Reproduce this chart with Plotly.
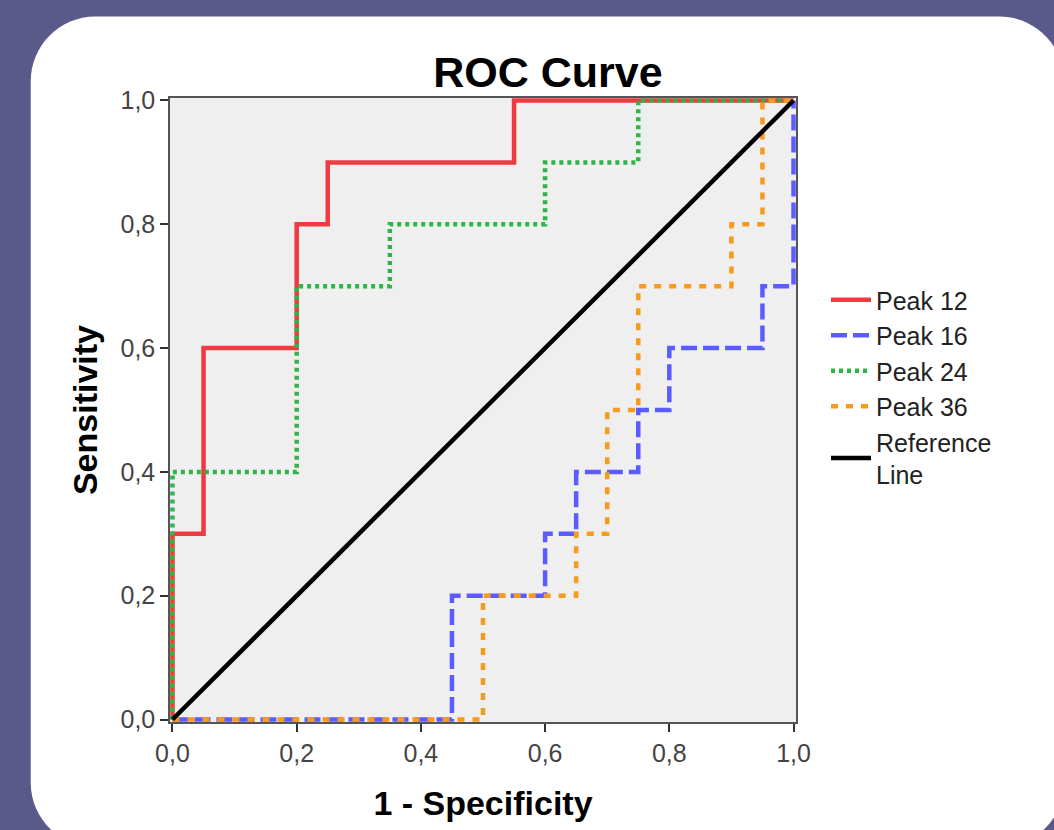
import plotly.graph_objects as go

# ROC data (1 - specificity, sensitivity) at each step
peak12_fpr = [0, 0, 0.05, 0.2, 0.25, 0.55, 1.0]
peak12_tpr = [0, 0.3, 0.6, 0.8, 0.9, 1.0, 1.0]

peak16_fpr = [0, 0.45, 0.6, 0.65, 0.75, 0.8, 0.95, 1.0]
peak16_tpr = [0, 0.2, 0.3, 0.4, 0.5, 0.6, 0.7, 1.0]

peak24_fpr = [0, 0, 0.2, 0.35, 0.6, 0.75, 1.0]
peak24_tpr = [0, 0.4, 0.7, 0.8, 0.9, 1.0, 1.0]

peak36_fpr = [0, 0.5, 0.65, 0.7, 0.75, 0.9, 0.95, 1.0]
peak36_tpr = [0, 0.2, 0.3, 0.5, 0.7, 0.8, 1.0, 1.0]

ref_x = [0, 1]
ref_y = [0, 1]

tick_vals = [0, 0.2, 0.4, 0.6, 0.8, 1.0]
tick_text = ["0,0", "0,2", "0,4", "0,6", "0,8", "1,0"]

W, H = 1054, 830
X0, X1, Y1, Y0 = 172, 794, 100, 720  # pixel positions of value 0 / 1
pad = 0.004
sx = (X1 - X0)
sy = (Y0 - Y1)
L = X0 - pad * sx
R = X1 + pad * sx
T = Y1 - pad * sy
B = Y0 + pad * sy

FONT = "Liberation Sans, Arial, sans-serif"

fig = go.Figure()
fig.add_trace(go.Scatter(x=peak12_fpr, y=peak12_tpr, name="Peak 12", mode="lines",
                         line=dict(color="#ef3a42", width=4.5, shape="hv")))
fig.add_trace(go.Scatter(x=peak16_fpr, y=peak16_tpr, name="Peak 16", mode="lines",
                         line=dict(color="#5a5cff", width=4.5, shape="hv", dash="16px,6px")))
fig.add_trace(go.Scatter(x=peak24_fpr, y=peak24_tpr, name="Peak 24", mode="lines",
                         line=dict(color="#2db548", width=4.5, shape="hv", dash="4px,4px")))
fig.add_trace(go.Scatter(x=peak36_fpr, y=peak36_tpr, name="Peak 36", mode="lines",
                         line=dict(color="#f79a1e", width=4.5, shape="hv", dash="7px,8px")))
fig.add_trace(go.Scatter(x=ref_x, y=ref_y, name="Reference<br>Line", mode="lines",
                         line=dict(color="#000000", width=4.5)))


def P(x, y):
    a = (x - L) / (R - L)
    b = (B - y) / (B - T)
    return f"{a:.5f},{b:.5f}"


# white rounded card behind chart
cl, ct, cr, cb, rad = 30, 16, 1065, 848, 65
k = 0.5523 * rad
path = (
    f"M {P(cl + rad, ct)} L {P(cr - rad, ct)} "
    f"C {P(cr - rad + k, ct)} {P(cr, ct + rad - k)} {P(cr, ct + rad)} "
    f"L {P(cr, cb - rad)} "
    f"C {P(cr, cb - rad + k)} {P(cr - rad + k, cb)} {P(cr - rad, cb)} "
    f"L {P(cl + rad, cb)} "
    f"C {P(cl + rad - k, cb)} {P(cl, cb - rad + k)} {P(cl, cb - rad)} "
    f"L {P(cl, ct + rad)} "
    f"C {P(cl, ct + rad - k)} {P(cl + rad - k, ct)} {P(cl + rad, ct)} Z"
)

shapes = [
    dict(type="path", path=path, xref="paper", yref="paper", fillcolor="white",
         line=dict(width=0), layer="below"),
    dict(type="rect", xref="paper", yref="paper", x0=0, x1=1, y0=0, y1=1,
         fillcolor="#efefef", line=dict(width=0), layer="below"),
]

axis_common = dict(
    range=[-pad, 1 + pad],
    tickvals=tick_vals,
    ticktext=tick_text,
    ticks="outside",
    ticklen=8,
    tickwidth=1.5,
    tickcolor="#333333",
    showline=True,
    linecolor="#555555",
    linewidth=1.5,
    mirror=True,
    showgrid=False,
    zeroline=False,
    tickfont=dict(family=FONT, size=25, color="#444444"),
    fixedrange=True,
)

fig.update_layout(
    width=W,
    height=H,
    autosize=False,
    margin=dict(l=L, r=W - R, t=T, b=H - B),
    paper_bgcolor="#59598a",
    plot_bgcolor="rgba(0,0,0,0)",
    shapes=shapes,
    title=dict(text="<b>ROC Curve</b>", x=548 / W, xref="container", xanchor="center",
               y=1 - 72 / H, yref="container", yanchor="middle",
               font=dict(family=FONT, size=43, color="#000000")),
    xaxis=dict(**axis_common,
               title=dict(text="<b>1 - Specificity</b>", standoff=25,
                          font=dict(family=FONT, size=34, color="#000000"))),
    yaxis=dict(**axis_common,
               title=dict(text="<b>Sensitivity</b>", standoff=13,
                          font=dict(family=FONT, size=34, color="#000000"))),
    legend=dict(
        x=826 / W, xref="container", xanchor="left",
        y=1 - 277 / H, yref="container", yanchor="top",
        bgcolor="rgba(0,0,0,0)",
        borderwidth=0,
        font=dict(family=FONT, size=25, color="#222222"),
        itemwidth=40,
        tracegroupgap=0,
    ),
    showlegend=True,
)

fig.write_html(
    "out.html",
    config={"displayModeBar": False},
    post_script="document.body.style.margin='0';document.body.style.background='#59598a';",
)
